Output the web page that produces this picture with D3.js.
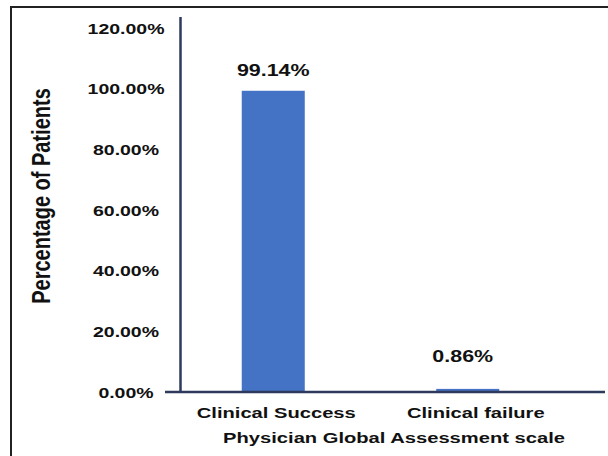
<!DOCTYPE html>
<html>
<head>
<meta charset="utf-8">
<script src="https://cdn.jsdelivr.net/npm/d3@7"></script>
<style>
  html, body { margin: 0; padding: 0; background: #fff; }
  svg { display: block; }
  text { font-family: "Liberation Sans", Arial, Helvetica, sans-serif; font-weight: bold; fill: #111; }
</style>
</head>
<body>
<svg id="chart" width="608" height="456"></svg>
<script>
// Share of patients by Physician Global Assessment outcome
const categories = ["Clinical Success", "Clinical failure"];
const percentages = [99.14, 0.86];
const yTicks = [0, 20, 40, 60, 80, 100, 120];
const yTitle = "Percentage of Patients";
const xTitle = "Physician Global Assessment scale";

const svg = d3.select("#chart");
const W = 608, H = 456;
const stretch = 1.3;            // wide typeface look
const axisColor = "#2e3a5c";
const barColor = "#4472c4";

// outer frame (top and left edges visible)
svg.append("path")
  .attr("d", `M11,${H} L11,7 L${W},7`)
  .attr("fill", "none")
  .attr("stroke", "#222")
  .attr("stroke-width", 2);

const y = d3.scaleLinear().domain([0, 120]).range([391.5, 27.5]);
const x = d3.scaleBand()
  .domain(categories)
  .range([176, 565])
  .paddingInner(0.676)
  .paddingOuter(0.338);

// bars
svg.append("g").selectAll("rect")
  .data(percentages)
  .join("rect")
  .attr("x", (d, i) => x(categories[i]))
  .attr("width", x.bandwidth())
  .attr("y", d => y(d))
  .attr("height", d => y(0) - y(d))
  .attr("fill", barColor);

// value labels above bars
const labelLift = [15, 27];
svg.append("g").selectAll("text")
  .data(percentages)
  .join("text")
  .attr("transform", (d, i) =>
    `translate(${x(categories[i]) + x.bandwidth() / 2 + (i ? -5 : 0)},${y(d) - labelLift[i]}) scale(${stretch},1)`)
  .attr("text-anchor", "middle")
  .style("font-size", "16.5px")
  .text(d => d.toFixed(2) + "%");

// y axis: line plus centred tick labels
const yAxis = d3.axisLeft(y)
  .tickValues(yTicks)
  .tickSize(0)
  .tickPadding(0)
  .tickFormat(d => d.toFixed(2) + "%");
const gy = svg.append("g").attr("transform", "translate(180.5,0)").call(yAxis);
gy.select(".domain").remove();
gy.selectAll(".tick text")
  .attr("x", null)
  .attr("dy", null)
  .attr("text-anchor", "middle")
  .attr("transform", `translate(-54.5,5.5) scale(${stretch},1)`)
  .style("font-size", "15px")
  .style("font-family", null)
  .attr("fill", "#111");
svg.append("line")
  .attr("x1", 180.5).attr("x2", 180.5)
  .attr("y1", 17).attr("y2", 393)
  .attr("stroke", axisColor).attr("stroke-width", 2.5);

// x axis
const xAxis = d3.axisBottom(x).tickSize(0).tickPadding(0);
const gx = svg.append("g").attr("transform", "translate(0,392)").call(xAxis);
gx.select(".domain").remove();
gx.selectAll(".tick text")
  .attr("y", null)
  .attr("dy", null)
  .attr("transform", (d, i) => `translate(${i ? 8 : 3},26) scale(${stretch},1)`)
  .style("font-size", "15.5px")
  .style("font-family", null)
  .attr("fill", "#111");
svg.append("line")
  .attr("x1", 165).attr("x2", 605)
  .attr("y1", 392).attr("y2", 392)
  .attr("stroke", axisColor).attr("stroke-width", 2.5);

// axis titles
svg.append("text")
  .attr("transform", `translate(394,443) scale(${stretch},1)`)
  .attr("text-anchor", "middle")
  .style("font-size", "15.5px")
  .text(xTitle);

svg.append("text")
  .attr("transform", `translate(50,196) scale(${stretch},1) rotate(-90)`)
  .attr("text-anchor", "middle")
  .style("font-size", "20px")
  .text(yTitle);
</script>
</body>
</html>
